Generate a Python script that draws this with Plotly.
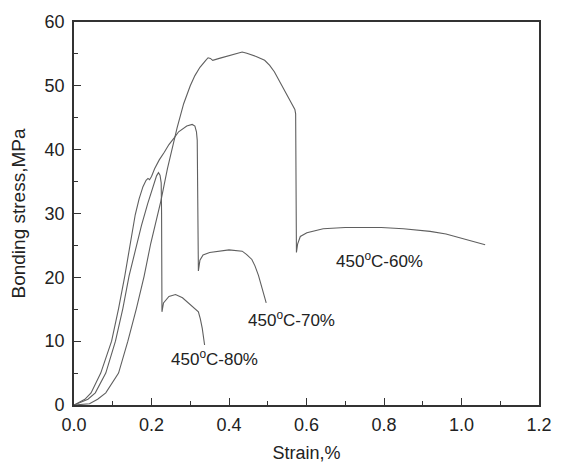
import plotly.graph_objects as go

# 450°C-60%
strain_60 = [0, 0.02, 0.04, 0.061, 0.082, 0.115, 0.139, 0.161, 0.181, 0.198, 0.212, 0.224, 0.241,
             0.258, 0.266, 0.283, 0.300, 0.312, 0.325, 0.340, 0.346, 0.352, 0.358, 0.375, 0.392,
             0.415, 0.434, 0.446, 0.470, 0.492, 0.505, 0.517, 0.530, 0.542, 0.553, 0.563,
             0.570, 0.572, 0.5725, 0.573, 0.574, 0.577, 0.584, 0.601, 0.643, 0.700, 0.793,
             0.850, 0.919, 0.960, 1.003, 1.035, 1.061]
stress_60 = [0, 0.05, 0.2, 0.9, 1.9, 5.0, 10.0, 15.1, 20.2, 25.3, 28.8, 31.9, 37.0,
             41.6, 43.4, 47.2, 50.0, 51.6, 52.9, 54.0, 54.4, 54.3, 54.0, 54.3, 54.6,
             55.0, 55.3, 55.1, 54.6, 54.0, 53.2, 52.2, 50.8, 49.4, 48.3, 47.2,
             46.3, 45.6, 35.0, 24.5, 23.9, 25.2, 26.4, 27.0, 27.6, 27.8, 27.8,
             27.6, 27.2, 26.8, 26.1, 25.6, 25.1]

# 450°C-70%
strain_70 = [0, 0.028, 0.044, 0.069, 0.097, 0.115, 0.131, 0.145, 0.158, 0.168, 0.178, 0.186,
             0.191, 0.195, 0.200, 0.208, 0.220, 0.233, 0.245, 0.258, 0.270, 0.291, 0.305,
             0.312, 0.316, 0.318, 0.319, 0.320, 0.321, 0.325, 0.333, 0.350, 0.375, 0.400,
             0.434, 0.445, 0.459, 0.467, 0.476, 0.486, 0.496]
stress_70 = [0, 0.9, 1.9, 5.0, 10.0, 15.1, 20.2, 25.3, 29.8, 32.3, 34.2, 35.2,
             35.5, 35.3, 35.8, 37.0, 38.4, 39.6, 40.8, 41.8, 42.8, 43.7, 43.95,
             43.7, 42.8, 41.5, 30.0, 22.0, 21.0, 22.7, 23.5, 23.9, 24.1, 24.3,
             24.1, 23.6, 22.8, 21.8, 20.3, 18.2, 16.0]

# 450°C-80%
strain_80 = [0, 0.036, 0.055, 0.082, 0.107, 0.126, 0.142, 0.163, 0.174, 0.190, 0.205, 0.213,
             0.218, 0.222, 0.225, 0.226, 0.227, 0.231, 0.245, 0.262, 0.280, 0.300, 0.315,
             0.321, 0.326, 0.331, 0.337]
stress_80 = [0, 0.9, 1.9, 5.0, 10.0, 15.1, 20.2, 25.3, 28.1, 31.5, 34.4, 35.9,
             36.4, 36.0, 34.8, 30.0, 14.6, 16.0, 17.0, 17.3, 16.8, 15.8, 15.0,
             14.6, 13.5, 12.0, 9.4]

labels = ["450<sup>o</sup>C-60%", "450<sup>o</sup>C-70%", "450<sup>o</sup>C-80%"]
label_x = [0.788, 0.561, 0.362]
label_y = [22.7, 13.5, 7.3]

x_ticks = [0.0, 0.2, 0.4, 0.6, 0.8, 1.0, 1.2]
x_tick_text = ["0.0", "0.2", "0.4", "0.6", "0.8", "1.0", "1.2"]
y_ticks = [0, 10, 20, 30, 40, 50, 60]

FONT = "Liberation Sans, Arial, sans-serif"
line_style = dict(color="#5f5f5f", width=1.1)

fig = go.Figure()
for sx, sy in [(strain_60, stress_60), (strain_70, stress_70), (strain_80, stress_80)]:
    fig.add_trace(go.Scatter(x=sx, y=sy, mode="lines", line=line_style,
                             showlegend=False, hoverinfo="skip"))

for t, lx, ly in zip(labels, label_x, label_y):
    fig.add_annotation(x=lx, y=ly, text=t, showarrow=False,
                       font=dict(family=FONT, size=17, color="#222"))

axis_common = dict(
    showline=True, linecolor="#333", linewidth=1.6, mirror=True,
    showgrid=False, zeroline=False,
    ticks="inside", ticklen=7, tickwidth=1.3, tickcolor="#333",
    tickfont=dict(family=FONT, size=18, color="#222"),
)

fig.update_xaxes(range=[0, 1.2], tickvals=x_ticks, ticktext=x_tick_text,
                 minor=dict(ticks="inside", ticklen=4, tickwidth=1.2, tickcolor="#333", dtick=0.1),
                 title=dict(text="Strain,%", font=dict(family=FONT, size=18, color="#222"), standoff=12),
                 ticklabelstandoff=3,
                 **axis_common)
fig.update_yaxes(range=[0, 60], tickvals=y_ticks,
                 minor=dict(ticks="inside", ticklen=4, tickwidth=1.2, tickcolor="#333", dtick=5),
                 title=dict(text="Bonding stress,MPa", font=dict(family=FONT, size=19, color="#222"), standoff=14),
                 ticklabelstandoff=4,
                 **axis_common)

fig.update_layout(
    width=564, height=472,
    margin=dict(l=74, r=12, t=22, b=56),
    paper_bgcolor="white", plot_bgcolor="white",
    font=dict(family=FONT),
)

fig.write_html("out.html", config={"displayModeBar": False},
               post_script="document.body.style.margin='0';document.body.style.overflow='hidden';")
